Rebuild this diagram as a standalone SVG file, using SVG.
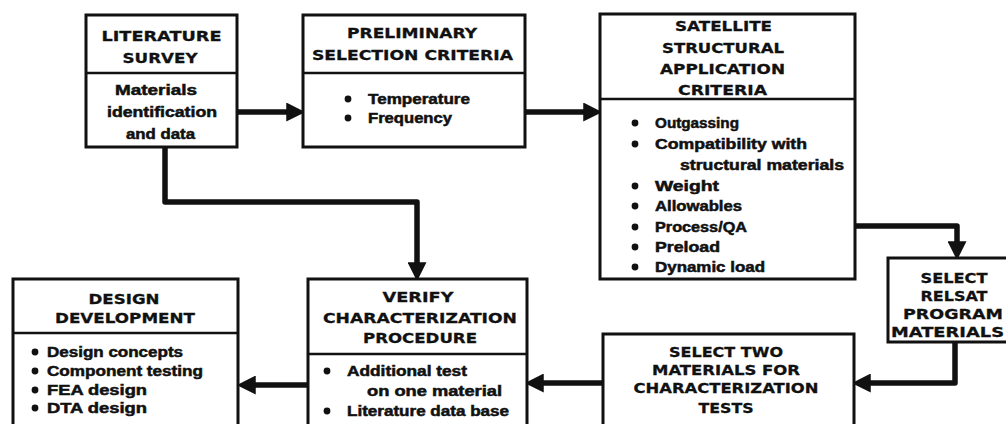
<svg xmlns="http://www.w3.org/2000/svg" width="1006" height="424" viewBox="0 0 1006 424">
<style>
.box{fill:#fff;stroke:#111;stroke-width:3}
.div{stroke:#111;stroke-width:2.5}
.h{font-family:"DejaVu Sans","Liberation Sans",Arial,sans-serif;font-weight:bold;font-size:14.5px;fill:#111;stroke:#111;stroke-width:0.3;text-anchor:middle}
.b{font-family:"Liberation Sans",Arial,sans-serif;font-weight:bold;font-size:14px;fill:#111;stroke:#111;stroke-width:0.5}
.bc{text-anchor:middle}
.dot{fill:#111}
.conn{fill:none;stroke:#111;stroke-width:5.5;stroke-linejoin:round}
</style>
<defs>
<marker id="ah" markerUnits="userSpaceOnUse" markerWidth="19" markerHeight="19" refX="4" refY="8" orient="auto" viewBox="0 0 16 16">
<path d="M0,0 L16,8 L0,16 z" fill="#111"/>
</marker>
</defs>
<rect width="1006" height="424" fill="#fff"/>

<g id="connectors">
<path class="conn" d="M237,112 H291" marker-end="url(#ah)"/>
<path class="conn" d="M525,112 H588" marker-end="url(#ah)"/>
<path class="conn" d="M855,226 H957 V246" marker-end="url(#ah)"/>
<path class="conn" d="M955,342 V383 H866" marker-end="url(#ah)"/>
<path class="conn" d="M603,383 H539" marker-end="url(#ah)"/>
<path class="conn" d="M308,385 H251" marker-end="url(#ah)"/>
<path class="conn" d="M165,147 V202 H417 V267" marker-end="url(#ah)"/>
</g>

<g id="literature-survey">
<rect class="box" x="86" y="15" width="151" height="132"/>
<line class="div" x1="86" y1="73" x2="237" y2="73"/>
<text class="h" x="161.5" y="41" textLength="120" lengthAdjust="spacingAndGlyphs">LITERATURE</text>
<text class="h" x="160" y="63" textLength="75" lengthAdjust="spacingAndGlyphs">SURVEY</text>
<text class="b bc" x="156" y="95" textLength="82" lengthAdjust="spacingAndGlyphs">Materials</text>
<text class="b bc" x="162" y="117" textLength="110" lengthAdjust="spacingAndGlyphs">identification</text>
<text class="b bc" x="160.5" y="139" textLength="69" lengthAdjust="spacingAndGlyphs">and data</text>
</g>

<g id="preliminary-selection">
<rect class="box" x="303" y="15" width="222" height="132"/>
<line class="div" x1="303" y1="73" x2="525" y2="73"/>
<text class="h" x="412" y="38" textLength="130" lengthAdjust="spacingAndGlyphs">PRELIMINARY</text>
<text class="h" x="412.5" y="60" textLength="201" lengthAdjust="spacingAndGlyphs">SELECTION CRITERIA</text>
<circle class="dot" cx="348" cy="99" r="3.4"/>
<circle class="dot" cx="348" cy="118" r="3.4"/>
<text class="b" x="368" y="104" textLength="102" lengthAdjust="spacingAndGlyphs">Temperature</text>
<text class="b" x="368" y="123" textLength="84" lengthAdjust="spacingAndGlyphs">Frequency</text>
</g>

<g id="satellite-criteria">
<rect class="box" x="600" y="14" width="255" height="265"/>
<line class="div" x1="600" y1="99" x2="855" y2="99"/>
<text class="h" x="723.5" y="31" textLength="97" lengthAdjust="spacingAndGlyphs">SATELLITE</text>
<text class="h" x="723" y="53" textLength="122" lengthAdjust="spacingAndGlyphs">STRUCTURAL</text>
<text class="h" x="722.5" y="74" textLength="125" lengthAdjust="spacingAndGlyphs">APPLICATION</text>
<text class="h" x="722.5" y="95" textLength="89" lengthAdjust="spacingAndGlyphs">CRITERIA</text>
<circle class="dot" cx="635" cy="123" r="3.4"/>
<circle class="dot" cx="635" cy="144" r="3.4"/>
<circle class="dot" cx="635" cy="186" r="3.4"/>
<circle class="dot" cx="635" cy="206" r="3.4"/>
<circle class="dot" cx="635" cy="227" r="3.4"/>
<circle class="dot" cx="635" cy="247" r="3.4"/>
<circle class="dot" cx="635" cy="267" r="3.4"/>
<text class="b" x="655" y="128" textLength="84" lengthAdjust="spacingAndGlyphs">Outgassing</text>
<text class="b" x="655" y="149" textLength="152" lengthAdjust="spacingAndGlyphs">Compatibility with</text>
<text class="b" x="680" y="170" textLength="164" lengthAdjust="spacingAndGlyphs">structural materials</text>
<text class="b" x="655" y="191" textLength="64" lengthAdjust="spacingAndGlyphs">Weight</text>
<text class="b" x="655" y="211" textLength="87" lengthAdjust="spacingAndGlyphs">Allowables</text>
<text class="b" x="655" y="232" textLength="92" lengthAdjust="spacingAndGlyphs">Process/QA</text>
<text class="b" x="655" y="252" textLength="65" lengthAdjust="spacingAndGlyphs">Preload</text>
<text class="b" x="655" y="272" textLength="110" lengthAdjust="spacingAndGlyphs">Dynamic load</text>
</g>

<g id="select-relsat">
<rect class="box" x="888" y="258" width="134" height="84"/>
<text class="h" x="954" y="283" textLength="67" lengthAdjust="spacingAndGlyphs">SELECT</text>
<text class="h" x="954" y="301" textLength="67" lengthAdjust="spacingAndGlyphs">RELSAT</text>
<text class="h" x="953" y="319" textLength="100" lengthAdjust="spacingAndGlyphs">PROGRAM</text>
<text class="h" x="947.5" y="337" textLength="113" lengthAdjust="spacingAndGlyphs">MATERIALS</text>
</g>

<g id="select-two">
<rect class="box" x="603" y="334" width="251" height="100"/>
<text class="h" x="726" y="357" textLength="114" lengthAdjust="spacingAndGlyphs">SELECT TWO</text>
<text class="h" x="726" y="375" textLength="148" lengthAdjust="spacingAndGlyphs">MATERIALS FOR</text>
<text class="h" x="726" y="393" textLength="185" lengthAdjust="spacingAndGlyphs">CHARACTERIZATION</text>
<text class="h" x="726" y="413" textLength="55" lengthAdjust="spacingAndGlyphs">TESTS</text>
</g>

<g id="verify-characterization">
<rect class="box" x="308" y="279" width="219" height="155"/>
<line class="div" x1="308" y1="354" x2="527" y2="354"/>
<text class="h" x="418" y="302" textLength="71" lengthAdjust="spacingAndGlyphs">VERIFY</text>
<text class="h" x="420" y="323" textLength="194" lengthAdjust="spacingAndGlyphs">CHARACTERIZATION</text>
<text class="h" x="420" y="343" textLength="114" lengthAdjust="spacingAndGlyphs">PROCEDURE</text>
<circle class="dot" cx="327" cy="371" r="3.4"/>
<circle class="dot" cx="327" cy="411" r="3.4"/>
<text class="b" x="347" y="376" textLength="120" lengthAdjust="spacingAndGlyphs">Additional test</text>
<text class="b" x="367" y="396" textLength="135" lengthAdjust="spacingAndGlyphs">on one material</text>
<text class="b" x="347" y="416" textLength="162" lengthAdjust="spacingAndGlyphs">Literature data base</text>
</g>

<g id="design-development">
<rect class="box" x="13" y="279" width="225" height="155"/>
<line class="div" x1="13" y1="333" x2="238" y2="333"/>
<text class="h" x="124" y="304" textLength="71" lengthAdjust="spacingAndGlyphs">DESIGN</text>
<text class="h" x="125" y="323" textLength="140" lengthAdjust="spacingAndGlyphs">DEVELOPMENT</text>
<circle class="dot" cx="35" cy="352" r="3.4"/>
<circle class="dot" cx="35" cy="371" r="3.4"/>
<circle class="dot" cx="35" cy="390" r="3.4"/>
<circle class="dot" cx="35" cy="408" r="3.4"/>
<text class="b" x="47" y="357" textLength="136" lengthAdjust="spacingAndGlyphs">Design concepts</text>
<text class="b" x="47" y="376" textLength="156" lengthAdjust="spacingAndGlyphs">Component testing</text>
<text class="b" x="47" y="395" textLength="100" lengthAdjust="spacingAndGlyphs">FEA design</text>
<text class="b" x="47" y="413" textLength="100" lengthAdjust="spacingAndGlyphs">DTA design</text>
</g>
</svg>
